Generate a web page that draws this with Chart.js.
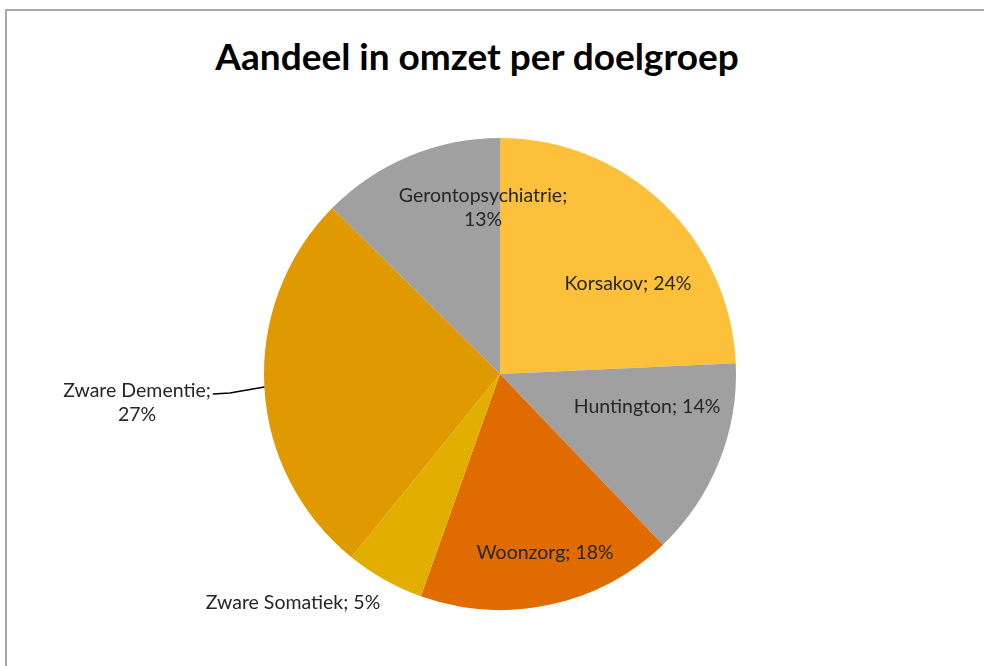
<!DOCTYPE html>
<html>
<head>
<meta charset="utf-8">
<script src="https://cdn.jsdelivr.net/npm/chart.js@4"></script>
<style>
  html, body { margin: 0; padding: 0; background: #fff; overflow: hidden; }
  #wrap { position: relative; width: 984px; height: 666px; overflow: hidden; }
  .rule { position: absolute; background: #a9a9a9; }
  #rule-top { left: 5px; top: 9px; width: 979px; height: 2px; }
  #rule-left { left: 5px; top: 9px; width: 2px; height: 657px; }
  #title { position: absolute; left: 0; width: 954px; top: 33px; text-align: center;
           font: bold 37px Lato, "Open Sans", sans-serif; color: #000; }
  canvas { position: absolute; left: 0; top: 0; }
</style>
</head>
<body>
<div id="wrap">
  <div class="rule" id="rule-top"></div>
  <div class="rule" id="rule-left"></div>
  <div id="title">Aandeel in omzet per doelgroep</div>
  <canvas id="pie" width="984" height="666"></canvas>
</div>
<script>
// Aandeel in omzet per doelgroep — pie, clockwise from 12 o'clock
const categories = ['Korsakov', 'Huntington', 'Woonzorg', 'Zware Somatiek', 'Zware Dementie', 'Gerontopsychiatrie'];
const shares     = [24.3, 13.6, 17.6, 5.4, 26.6, 12.6];
const sliceColors = ['#fdc03b', '#a0a0a0', '#e06b00', '#e2af00', '#e09a00', '#a0a0a0'];

// ── label placement (relative to pie centre, in radii) ────────────────────────
const labelSpots = [
    { x: 0.542, y: -0.381, lines: 1 },
    { x: 0.623, y: 0.140, lines: 1 },
    { x: 0.191, y: 0.758, lines: 1 },
    { x: -0.877, y: 0.970, lines: 1 },
    { x: -1.538, y: 0.123, lines: 2, leader: true },
    { x: -0.072, y: -0.703, lines: 2 },
];

const total = shares.reduce((s, v) => s + v, 0);

const sliceLabels = {
    id: 'sliceLabels',
    afterDatasetsDraw(chart) {
        const ctx = chart.ctx;
        const arcs = chart.getDatasetMeta(0).data;
        const cx = arcs[0].x, cy = arcs[0].y, r = arcs[0].outerRadius;
        ctx.save();
        ctx.font = '19.5px Lato, "Open Sans", sans-serif';
        ctx.fillStyle = '#262626';
        ctx.textAlign = 'center';
        ctx.textBaseline = 'middle';
        const lh = 24;
        labelSpots.forEach((spot, i) => {
            const pct = Math.round(100 * shares[i] / total) + '%';
            const x = cx + spot.x * r, y = cy + spot.y * r;
            if (spot.lines === 2) {
                ctx.fillText(categories[i] + ';', x, y - lh / 2);
                ctx.fillText(pct, x, y + lh / 2);
            } else {
                ctx.fillText(categories[i] + '; ' + pct, x, y);
            }
            if (spot.leader) {
                // leader line from the label to the slice edge
                const w = ctx.measureText(categories[i] + ';').width;
                const sx = x + w / 2 + 2, sy = y - lh / 2 + 3;
                const ey = cy + 0.055 * r;
                const ex = cx - Math.sqrt(r * r - (ey - cy) * (ey - cy));
                ctx.beginPath();
                ctx.strokeStyle = '#000';
                ctx.lineWidth = 1.5;
                ctx.moveTo(sx, sy);
                ctx.lineTo(sx + 17, sy - 1);
                ctx.lineTo(ex, ey);
                ctx.stroke();
            }
        });
        ctx.restore();
    }
};

new Chart(document.getElementById('pie').getContext('2d'), {
    type: 'pie',
    data: {
        labels: categories,
        datasets: [{ data: shares, backgroundColor: sliceColors, borderWidth: 0 }]
    },
    options: {
        responsive: false,
        animation: false,
        layout: { padding: { top: 138, bottom: 56, left: 16, right: 0 } },
        plugins: {
            legend: { display: false },
            tooltip: { enabled: false },
            title: { display: false }
        }
    },
    plugins: [sliceLabels]
});
</script>
</body>
</html>
